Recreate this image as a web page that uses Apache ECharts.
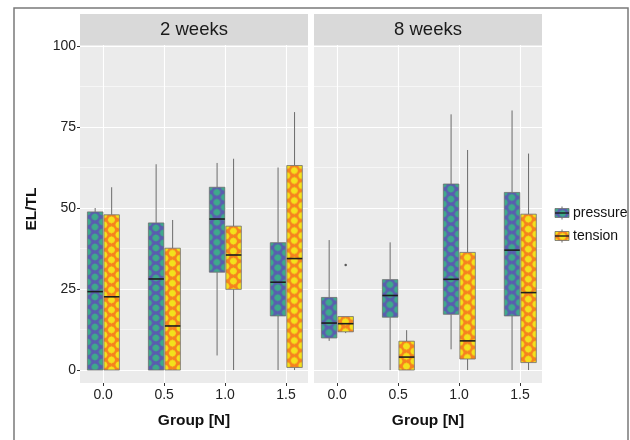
<!DOCTYPE html>
<html><head><meta charset="utf-8">
<script src="https://cdn.jsdelivr.net/npm/echarts@6.0.0/dist/echarts.min.js"></script>
<style>html,body{margin:0;padding:0;background:#fff}#c{width:630px;height:440px}</style>
</head><body><div id="c"></div>
<script>
// ---- data ----
const groups = [0.0, 0.5, 1.0, 1.5];
const xTickValues = [0, 0.5, 1, 1.5];
const yTicks = [0, 25, 50, 75, 100];
const yMinorTicks = [12.5, 37.5, 62.5, 87.5];
const panels = ['2 weeks', '8 weeks'];
const seriesNames = ['pressure', 'tension'];
// each row: [min, q1, median, q3, max]
const pressure2w = [[0, 0, 24.2, 48.8, 50.0], [0, 0, 28.1, 45.4, 63.5], [4.5, 30.2, 46.6, 56.4, 63.9], [0, 16.7, 27.1, 39.3, 62.5]];
const tension2w  = [[0, 0, 22.6, 47.9, 56.4], [0, 0, 13.6, 37.6, 46.3], [0, 24.9, 35.5, 44.4, 65.2], [0, 0.8, 34.4, 63.1, 79.6]];
const pressure8w = [[9.0, 9.9, 14.5, 22.4, 40.1], [0, 16.3, 23.0, 27.9, 39.4], [6.4, 17.2, 28.0, 57.4, 78.9], [0, 16.7, 37.0, 54.8, 80.1]];
const tension8w  = [[11.4, 11.8, 14.3, 16.5, 16.5], [0, 0, 4.0, 8.9, 12.3], [0, 3.4, 9.0, 36.3, 67.9], [0, 2.3, 23.9, 48.1, 66.8]];
const outliers8wTension = [[0.0, 32.4]];

// ---- styling helpers ----
const FONT = '"Liberation Sans", Arial, sans-serif';
const BOX_W = 15.5;
const OFFSETS = [-8, 8.5];
function makePattern(bg, fg, w, h, r) {
  const c = document.createElement('canvas');
  c.width = w; c.height = h;
  const ctx = c.getContext('2d');
  ctx.fillStyle = bg; ctx.fillRect(0, 0, w, h);
  ctx.fillStyle = fg;
  [[w / 2, h / 2], [0, 0], [w, 0], [0, h], [w, h]].forEach(([x, y]) => {
    ctx.beginPath();
    ctx.moveTo(x, y - r); ctx.lineTo(x + r, y); ctx.lineTo(x, y + r); ctx.lineTo(x - r, y); ctx.closePath();
    ctx.fill();
    ctx.beginPath(); ctx.arc(x, y, r * 0.85, 0, Math.PI * 2); ctx.fill();
  });
  return { image: c, repeat: 'repeat' };
}
const patterns = [
  makePattern('#5a5db0', '#3ea98b', 15, 10, 3.8),
  makePattern('#f6821f', '#f3e11c', 15, 10, 3.8)
];

function makeRender(offset, pattern) {
  return function (params, api) {
    const x = api.value(0);
    const pMin = api.coord([x, api.value(1)]);
    const pQ1 = api.coord([x, api.value(2)]);
    const pMed = api.coord([x, api.value(3)]);
    const pQ3 = api.coord([x, api.value(4)]);
    const pMax = api.coord([x, api.value(5)]);
    const cx = pMin[0] + offset;
    const half = BOX_W / 2;
    const ws = { stroke: '#6b6b6b', lineWidth: 1 };
    return {
      type: 'group', children: [
        { type: 'line', shape: { x1: cx, y1: pMax[1], x2: cx, y2: pQ3[1] }, style: ws },
        { type: 'line', shape: { x1: cx, y1: pQ1[1], x2: cx, y2: pMin[1] }, style: ws },
        { type: 'rect', x: cx - half, y: pQ3[1], shape: { x: 0, y: 0, width: BOX_W, height: Math.max(pQ1[1] - pQ3[1], 0.5) },
          style: { fill: pattern, stroke: '#6e6e6e', lineWidth: 0.8 } },
        { type: 'line', shape: { x1: cx - half, y1: pMed[1], x2: cx + half, y2: pMed[1] }, style: { stroke: '#1e1e1e', lineWidth: 1.6 } }
      ]
    };
  };
}
function toData(arr) { return groups.map((g, i) => [g].concat(arr[i])); }

const GRID_TOP = 45, GRID_H = 338, GRID_W = 228;
const gridLefts = [80, 314];
const grids = gridLefts.map(l => ({ left: l, top: GRID_TOP, width: GRID_W, height: GRID_H, show: true, backgroundColor: '#ebebeb', borderWidth: 0 }));

const xAxes = [0, 1].map(i => ({
  type: 'value', gridIndex: i, min: -0.19, max: 1.68, position: 'bottom',
  axisLine: { show: false, onZero: false },
  axisTick: { show: true, customValues: xTickValues, length: 3, lineStyle: { color: '#333', width: 1 } },
  axisLabel: { show: true, customValues: xTickValues, formatter: v => v.toFixed(1), color: '#222', fontSize: 14, fontFamily: FONT, margin: 5 },
  splitLine: { show: true, lineStyle: { color: '#ffffff', width: 1.1 } },
  name: 'Group [N]', nameLocation: 'middle', nameGap: 30,
  nameTextStyle: { fontSize: 15.5, fontWeight: 'bold', fontFamily: FONT, color: '#111' }
}));
const yMajor = [0, 1].map(i => ({
  type: 'value', gridIndex: i, min: -4, max: 100.3, position: 'left',
  axisLine: { show: false, onZero: false },
  axisTick: { show: i === 0, customValues: yTicks, length: 3, lineStyle: { color: '#333', width: 1 } },
  axisLabel: { show: i === 0, customValues: yTicks, color: '#222', fontSize: 14, fontFamily: FONT, margin: 4 },
  splitLine: { show: true, lineStyle: { color: '#ffffff', width: 1.1 } }
}));
const yMinor = [0, 1].map(i => ({
  type: 'value', gridIndex: i, min: -4, max: 100.3, position: 'left',
  axisLine: { show: false, onZero: false },
  axisTick: { show: false, customValues: yMinorTicks },
  axisLabel: { show: false, customValues: yMinorTicks },
  splitLine: { show: true, lineStyle: { color: '#ffffff', width: 0.55 } }
}));

const allData = [[pressure2w, tension2w], [pressure8w, tension8w]];
const series = [];
allData.forEach((pair, pi) => {
  pair.forEach((arr, si) => {
    series.push({
      type: 'custom', name: seriesNames[si], xAxisIndex: pi, yAxisIndex: pi,
      renderItem: makeRender(OFFSETS[si], patterns[si]),
      encode: { x: 0, y: [1, 2, 3, 4, 5] },
      data: toData(arr), z: 5
    });
  });
});
series.push({
  type: 'scatter', name: 'tension outlier', xAxisIndex: 1, yAxisIndex: 1,
  data: outliers8wTension, symbolSize: 2.5, symbolOffset: [OFFSETS[1], 0],
  itemStyle: { color: '#333' }, z: 6
});

function legendKey(y, pattern, label) {
  return [
    { type: 'line', shape: { x1: 562, y1: y - 2, x2: 562, y2: y + 11 }, style: { stroke: '#6b6b6b', lineWidth: 1 } },
    { type: 'rect', x: 555, y: y, shape: { x: 0, y: 0, width: 14, height: 9 }, style: { fill: pattern, stroke: '#6e6e6e', lineWidth: 0.8 } },
    { type: 'line', shape: { x1: 555, y1: y + 4.5, x2: 569, y2: y + 4.5 }, style: { stroke: '#1e1e1e', lineWidth: 1.4 } },
    { type: 'text', x: 573, y: y + 4.5, style: { text: label, font: '14px ' + FONT, fill: '#111', verticalAlign: 'middle', align: 'left' } }
  ];
}

const graphic = [
  { type: 'rect', shape: { x: 14, y: 8, width: 614, height: 445 }, style: { fill: 'none', stroke: '#7a7a7a', lineWidth: 1.5 }, z: -10 },
  ...gridLefts.map((l, i) => ({ type: 'rect', shape: { x: l, y: 14, width: GRID_W, height: 31 }, style: { fill: '#d9d9d9' } })),
  ...gridLefts.map((l, i) => ({ type: 'text', x: l + GRID_W / 2, y: 30, style: { text: panels[i], font: '18.5px ' + FONT, fill: '#1a1a1a', align: 'center', verticalAlign: 'middle' } })),
  { type: 'text', x: 32, y: 209, rotation: Math.PI / 2, style: { text: 'EL/TL', font: 'bold 15.5px ' + FONT, fill: '#111', align: 'center', verticalAlign: 'middle' } },
  ...legendKey(208.5, patterns[0], 'pressure'),
  ...legendKey(231.5, patterns[1], 'tension')
];

const chart = echarts.init(document.getElementById('c'), null, { renderer: 'canvas' });
chart.setOption({
  animation: false,
  backgroundColor: '#ffffff',
  grid: grids,
  xAxis: xAxes,
  yAxis: yMajor.concat(yMinor),
  series: series,
  graphic: graphic
});
</script>
</body></html>
